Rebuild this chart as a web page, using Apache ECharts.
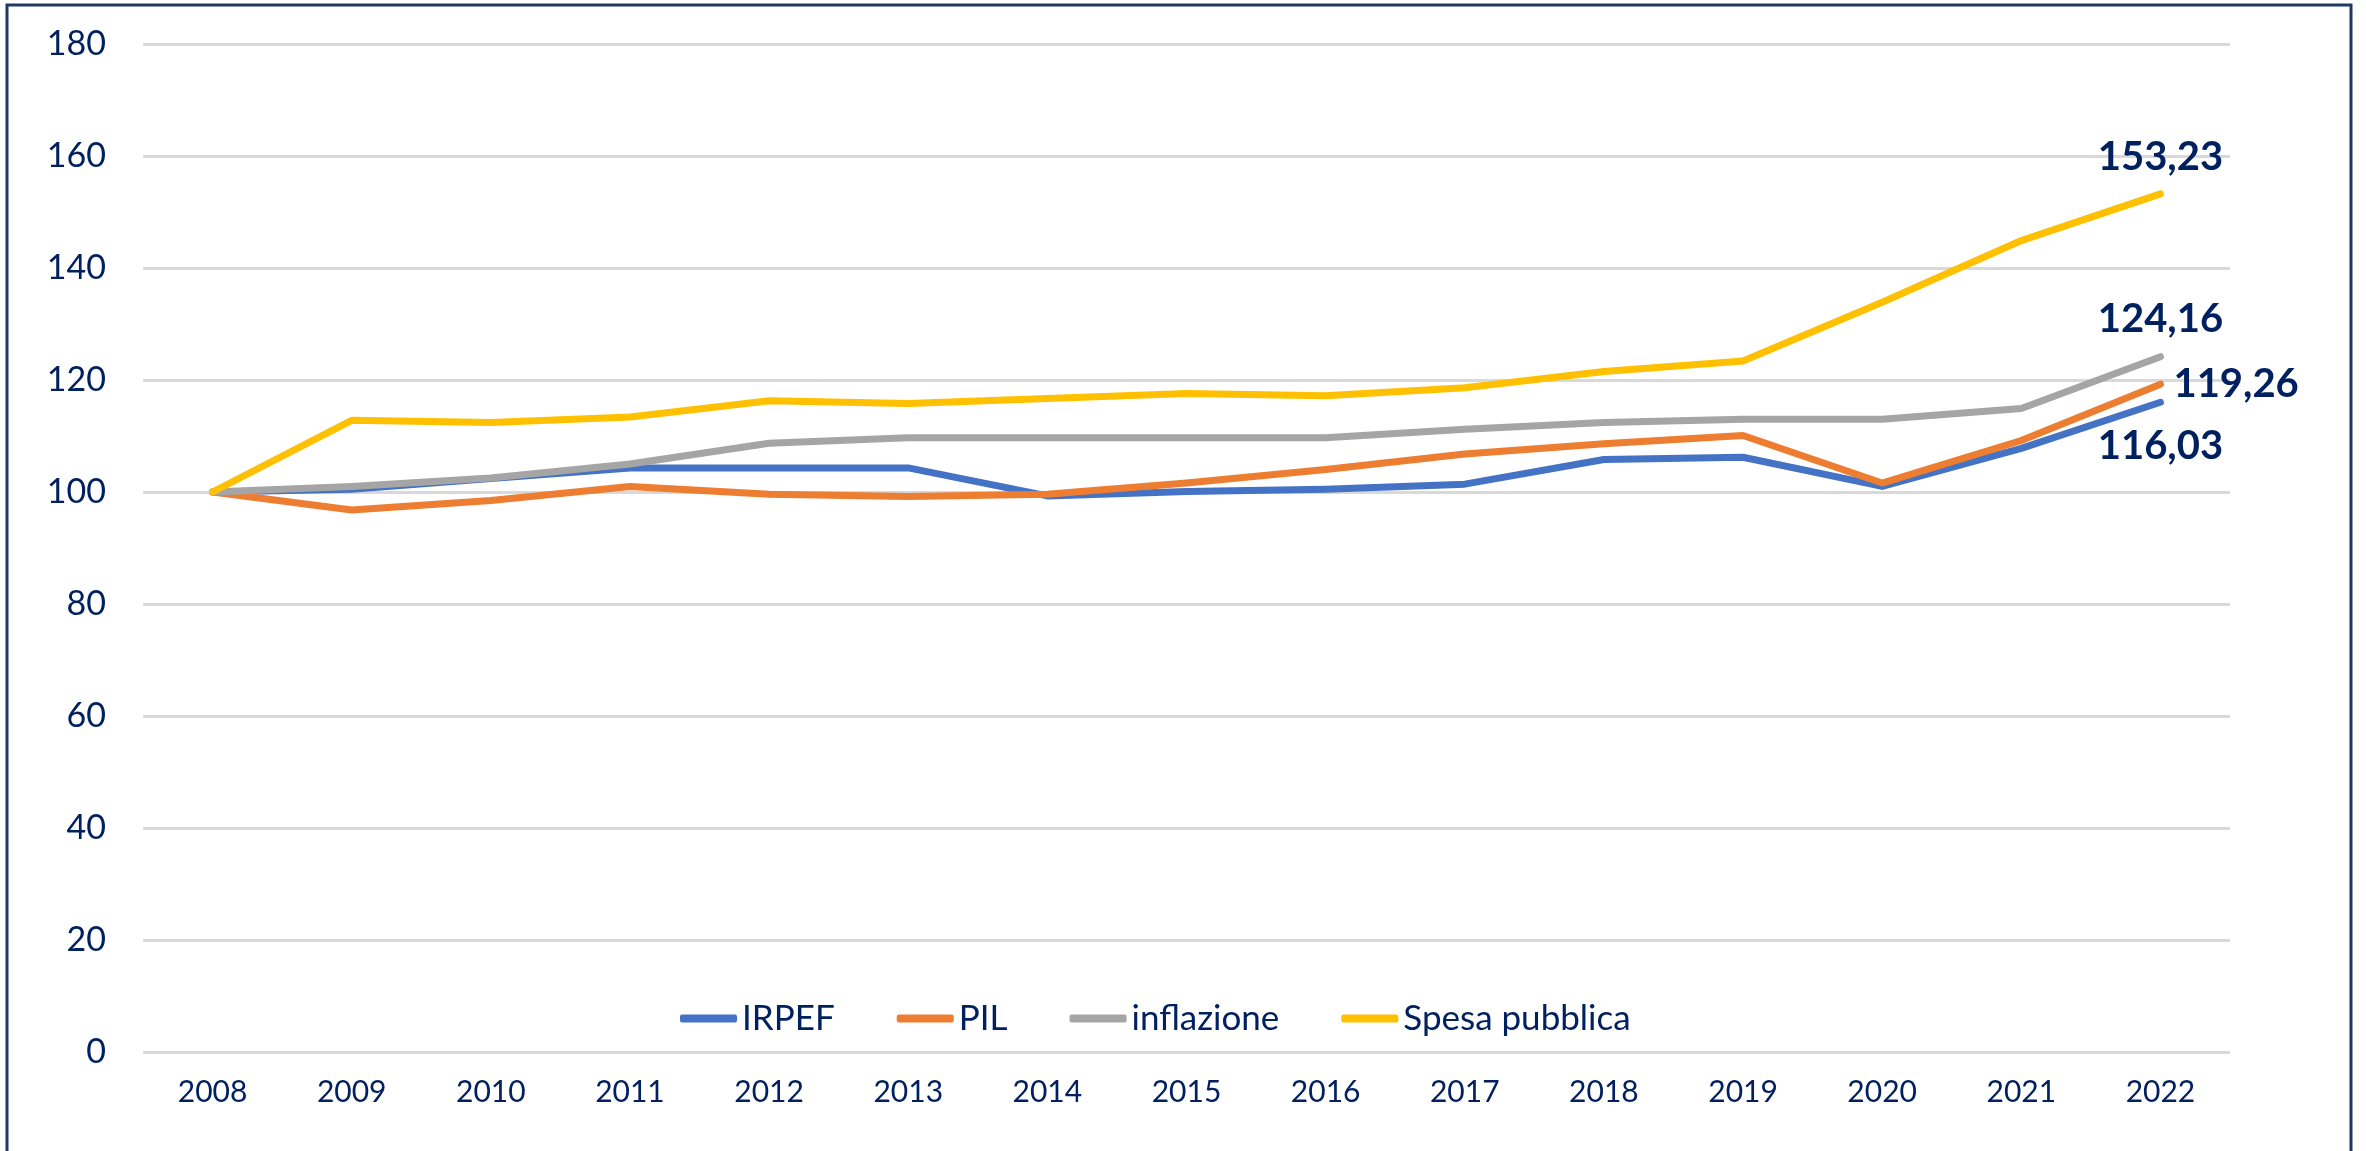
<!DOCTYPE html>
<html>
<head>
<meta charset="utf-8">
<script src="https://cdn.jsdelivr.net/npm/echarts@6/dist/echarts.min.js"></script>
<style>
  html, body { margin: 0; padding: 0; background: #fff; }
  #chart { width: 2366px; height: 1151px; }
</style>
</head>
<body>
<div id="chart"></div>
<script>
const years = ['2008', '2009', '2010', '2011', '2012', '2013', '2014', '2015', '2016', '2017', '2018', '2019', '2020', '2021', '2022']
const irpef = [100, 100.5, 102.4, 104.3, 104.3, 104.3, 99.3, 100.1, 100.5, 101.4, 105.8, 106.2, 101.0, 107.8, 116.03]
const pil = [100, 96.8, 98.5, 101.0, 99.6, 99.2, 99.6, 101.6, 104.0, 106.8, 108.6, 110.1, 101.6, 109.2, 119.26]
const inflazione = [100, 101.0, 102.5, 105.0, 108.7, 109.7, 109.7, 109.7, 109.7, 111.2, 112.4, 113.0, 113.0, 114.9, 124.16]
const spesa = [100, 112.8, 112.4, 113.4, 116.3, 115.8, 116.7, 117.6, 117.2, 118.6, 121.5, 123.4, 133.9, 144.9, 153.23]
const yTicks = [0, 20, 40, 60, 80, 100, 120, 140, 160, 180]

const navy = '#002060'
const font = 'Lato'

// only the last point gets a value label
function withEndLabel (values, position, distance) {
    return values.map((v, i) => {
        if (i !== values.length - 1) return v
        return {
            value: v,
            label: {
                show: true,
                position: position,
                distance: distance,
                formatter: p => p.value.toFixed(2).replace('.', ','),
                fontFamily: font,
                fontWeight: 'bold',
                fontSize: 40,
                color: navy
            }
        }
    })
}

function lineSeries (name, color, data) {
    return {
        name: name,
        type: 'line',
        symbol: 'circle',
        symbolSize: 0,
        showSymbol: true,
        lineStyle: { width: 7, color: color, cap: 'round', join: 'round' },
        itemStyle: { color: color },
        data: data
    }
}

const chart = echarts.init(document.getElementById('chart'))
chart.setOption({
    backgroundColor: '#fff',
    animation: false,
    color: ['#4472C4', '#ED7D31', '#A5A5A5', '#FFC000'],
    grid: { left: 143, right: 136, top: 44, bottom: 99 },
    graphic: [{
        type: 'rect',
        shape: { x: 7, y: 5, width: 2344, height: 1170 },
        style: { fill: 'none', stroke: '#1F3864', lineWidth: 3 },
        z: -1
    }],
    legend: {
        left: 675,
        top: 996,
        itemWidth: 57,
        itemHeight: 8,
        itemGap: 62,
        icon: 'roundRect',
        textStyle: { fontFamily: font, fontSize: 35, color: navy },
        data: ['IRPEF', 'PIL', 'inflazione', 'Spesa pubblica']
    },
    xAxis: {
        type: 'category',
        data: years,
        boundaryGap: true,
        axisLine: { show: false },
        axisTick: { show: false },
        axisLabel: { fontFamily: font, fontSize: 30, color: navy, margin: 25 }
    },
    yAxis: {
        type: 'value',
        min: yTicks[0],
        max: yTicks[yTicks.length - 1],
        interval: 20,
        axisLine: { show: false },
        axisTick: { show: false },
        axisLabel: { fontFamily: font, fontSize: 34, color: navy, margin: 37 },
        splitLine: { lineStyle: { color: '#D9D9D9', width: 3 } }
    },
    series: [
        lineSeries('IRPEF', '#4472C4', withEndLabel(irpef, 'bottom', 24)),
        lineSeries('PIL', '#ED7D31', withEndLabel(pil, 'right', 13)),
        lineSeries('inflazione', '#A5A5A5', withEndLabel(inflazione, 'top', 18)),
        lineSeries('Spesa pubblica', '#FFC000', withEndLabel(spesa, 'top', 17))
    ]
})
</script>
</body>
</html>
